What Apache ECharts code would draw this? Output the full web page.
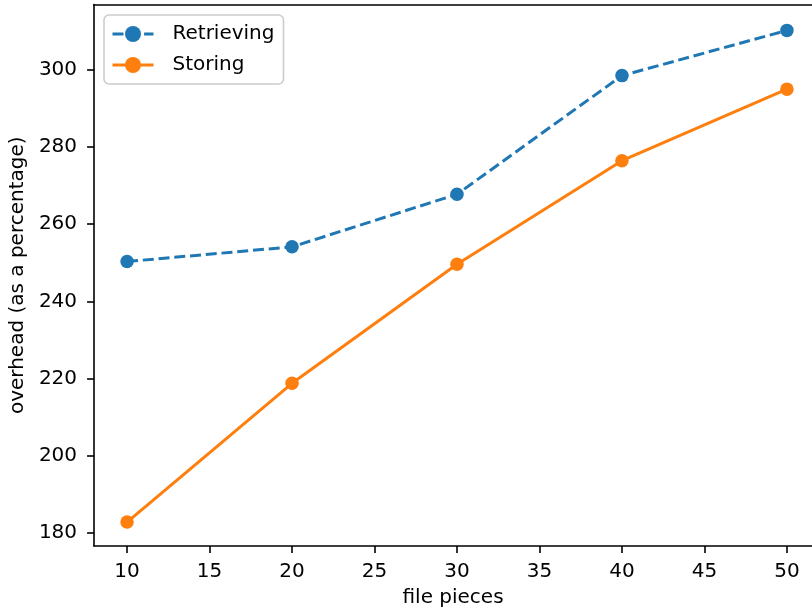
<!DOCTYPE html>
<html>
<head>
<meta charset="utf-8">
<script src="https://cdn.jsdelivr.net/npm/echarts@6/dist/echarts.min.js"></script>
<style>
html,body{margin:0;padding:0;background:#fff;}
#chart{width:812px;height:614px;}
</style>
</head>
<body>
<div id="chart"></div>
<script>
const filePieces = [10, 20, 30, 40, 50];
const retrieving = [250.3, 254.1, 267.7, 298.4, 310.1];
const storing = [182.9, 218.8, 249.6, 276.4, 294.9];
const xTicks = [10, 15, 20, 25, 30, 35, 40, 45, 50];
const yTicks = [180, 200, 220, 240, 260, 280, 300];

const font = 'DejaVu Sans';
const fs = 20;
const chart = echarts.init(document.getElementById('chart'), null, {renderer: 'canvas'});
chart.setOption({
  animation: false,
  backgroundColor: '#ffffff',
  textStyle: {fontFamily: font},
  grid: {left: 94, top: 4.5, bottom: 68, right: 0, show: false},
  legend: {
    left: 104, top: 15, orient: 'vertical',
    padding: [9, 9, 9, 7],
    itemGap: 11, itemWidth: 41, itemHeight: 20,
    backgroundColor: 'rgba(255,255,255,0.8)',
    borderColor: '#cccccc', borderWidth: 1.6, borderRadius: 5,
    lineStyle: {width: 3},
    textStyle: {fontFamily: font, fontSize: fs, color: '#000', padding: [0, 0, 0, 14]},
    data: ['Retrieving', 'Storing']
  },
  xAxis: [{
    type: 'value', min: 8, max: 51.52,
    name: 'file pieces', nameLocation: 'middle', nameGap: 42,
    nameTextStyle: {fontFamily: font, fontSize: fs, color: '#000'},
    axisLine: {show: true, onZero: false, lineStyle: {color: '#000', width: 1.6}},
    axisTick: {show: true, length: 7, inside: false, customValues: xTicks, lineStyle: {color: '#000', width: 1.6}},
    axisLabel: {fontFamily: font, fontSize: fs, color: '#000', margin: 16, customValues: xTicks},
    splitLine: {show: false}
  }, {
    type: 'value', min: 8, max: 51.52, position: 'top',
    axisLine: {show: true, onZero: false, lineStyle: {color: '#000', width: 1.6}},
    axisTick: {show: false}, axisLabel: {show: false}, splitLine: {show: false}
  }],
  yAxis: {
    type: 'value', min: 176.7, max: 316.8,
    name: 'overhead (as a percentage)', nameLocation: 'middle', nameGap: 65, nameRotate: 90,
    nameTextStyle: {fontFamily: font, fontSize: fs, color: '#000'},
    axisLine: {show: true, onZero: false, lineStyle: {color: '#000', width: 1.6}},
    axisTick: {show: true, length: 7, inside: false, customValues: yTicks, lineStyle: {color: '#000', width: 1.6}},
    axisLabel: {fontFamily: font, fontSize: fs, color: '#000', margin: 17, customValues: yTicks},
    splitLine: {show: false}
  },
  series: [
    {
      name: 'Retrieving', type: 'line',
      data: filePieces.map((x, i) => [x, retrieving[i]]),
      symbol: 'circle', symbolSize: 13.5,
      itemStyle: {color: '#1f77b4'},
      lineStyle: {color: '#1f77b4', width: 3, type: [11, 4.8]},
      z: 2
    },
    {
      name: 'Storing', type: 'line',
      data: filePieces.map((x, i) => [x, storing[i]]),
      symbol: 'circle', symbolSize: 13.5,
      itemStyle: {color: '#ff7f0e'},
      lineStyle: {color: '#ff7f0e', width: 3, type: 'solid'},
      z: 3
    }
  ]
});
</script>
</body>
</html>
